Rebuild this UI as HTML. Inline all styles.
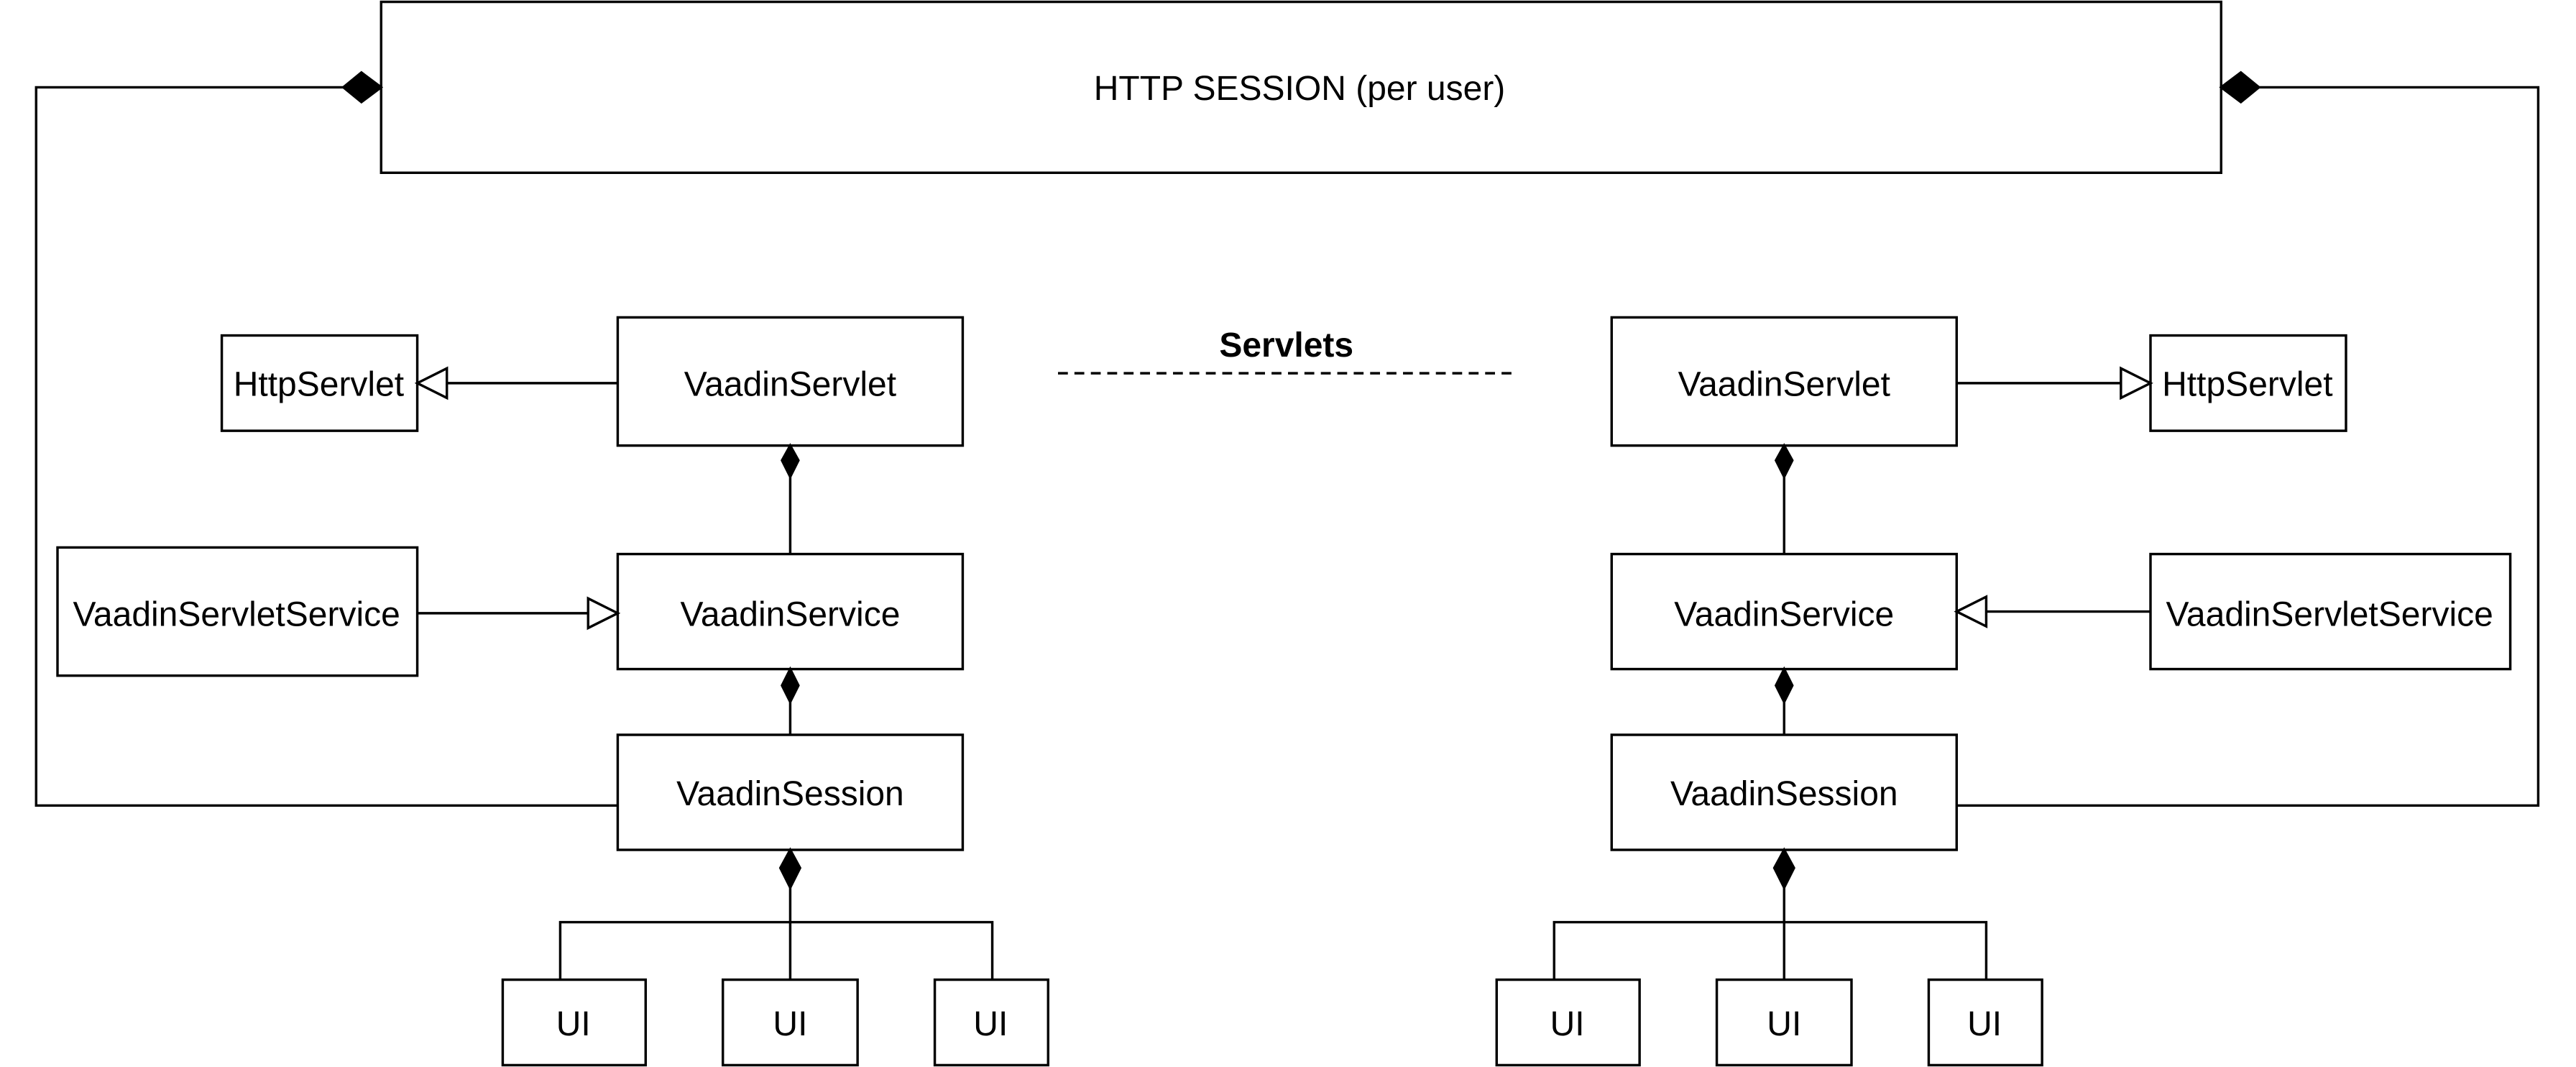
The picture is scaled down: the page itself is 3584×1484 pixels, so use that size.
<!DOCTYPE html>
<html><head><meta charset="utf-8"><style>
html,body{margin:0;padding:0;background:#fff;}
svg{display:block;}
text{font-family:"Liberation Sans",Arial,sans-serif;font-size:21px;fill:#000;}
</style></head><body>
<svg width="3584" height="1484" viewBox="0 0 1568 649" xmlns="http://www.w3.org/2000/svg">
<rect width="1568" height="649" fill="#fff"/>
<g fill="#fff" stroke="#000" stroke-width="1.5">
<rect x="232" y="1" width="1120" height="104"/>
<rect x="135" y="204" width="119" height="58"/>
<rect x="376" y="193" width="210" height="78"/>
<rect x="35" y="333" width="219" height="78"/>
<rect x="376" y="337" width="210" height="70"/>
<rect x="376" y="447" width="210" height="70"/>
<rect x="981" y="193" width="210" height="78"/>
<rect x="1309" y="204" width="119" height="58"/>
<rect x="981" y="337" width="210" height="70"/>
<rect x="1309" y="337" width="219" height="70"/>
<rect x="981" y="447" width="210" height="70"/>
<rect x="306" y="596" width="87" height="52"/>
<rect x="440" y="596" width="82" height="52"/>
<rect x="569" y="596" width="69" height="52"/>
<rect x="911" y="596" width="87" height="52"/>
<rect x="1045" y="596" width="82" height="52"/>
<rect x="1174" y="596" width="69" height="52"/>
</g>
<g fill="none" stroke="#000" stroke-width="1.5">
<polyline points="209,53 22,53 22,490 376,490"/>
<polyline points="1375,53 1545,53 1545,490 1191,490"/>
<line x1="272" y1="233" x2="376" y2="233"/>
<line x1="1191" y1="233" x2="1291" y2="233"/>
<line x1="254" y1="373" x2="358" y2="373"/>
<line x1="1209" y1="372" x2="1309" y2="372"/>
<line x1="481" y1="290" x2="481" y2="337"/>
<line x1="481" y1="427" x2="481" y2="447"/>
<line x1="1086" y1="290" x2="1086" y2="337"/>
<line x1="1086" y1="427" x2="1086" y2="447"/>
<line x1="481" y1="540" x2="481" y2="596"/>
<polyline points="341,596 341,561 604,561 604,596"/>
<line x1="1086" y1="540" x2="1086" y2="596"/>
<polyline points="946,596 946,561 1209,561 1209,596"/>
<line x1="644" y1="227" x2="922" y2="227" stroke-dasharray="6,4"/>
</g>
<g fill="#fff" stroke="#000" stroke-width="1.5">
<polygon points="254,233 272,224 272,242"/>
<polygon points="1309,233 1291,224 1291,242"/>
<polygon points="376,373 358,364 358,382"/>
<polygon points="1191,372 1209,363 1209,381"/>
</g>
<g fill="#000" stroke="#000" stroke-width="1.5">
<polygon points="232,53 220,44 209,53 220,62"/>
<polygon points="1352,53 1364,44 1375,53 1364,62"/>
<polygon points="481,271 486,280 481,290 476,280"/>
<polygon points="1086,271 1091,280 1086,290 1081,280"/>
<polygon points="481,407 486,417 481,427 476,417"/>
<polygon points="1086,407 1091,417 1086,427 1081,417"/>
<polygon points="481,517 487,528 481,540 475,528"/>
<polygon points="1086,517 1092,528 1086,540 1080,528"/>
</g>
<g text-anchor="middle" dominant-baseline="central">
<text x="791" y="54">HTTP SESSION (per user)</text>
<text x="194" y="234">HttpServlet</text>
<text x="481" y="234">VaadinServlet</text>
<text x="144" y="374">VaadinServletService</text>
<text x="481" y="374">VaadinService</text>
<text x="481" y="483">VaadinSession</text>
<text x="1086" y="234">VaadinServlet</text>
<text x="1368" y="234">HttpServlet</text>
<text x="1086" y="374">VaadinService</text>
<text x="1418" y="374">VaadinServletService</text>
<text x="1086" y="483">VaadinSession</text>
<text x="349" y="623">UI</text>
<text x="481" y="623">UI</text>
<text x="603" y="623">UI</text>
<text x="954" y="623">UI</text>
<text x="1086" y="623">UI</text>
<text x="1208" y="623">UI</text>
<text x="783" y="210" font-weight="bold">Servlets</text>
</g>
</svg>
</body></html>
